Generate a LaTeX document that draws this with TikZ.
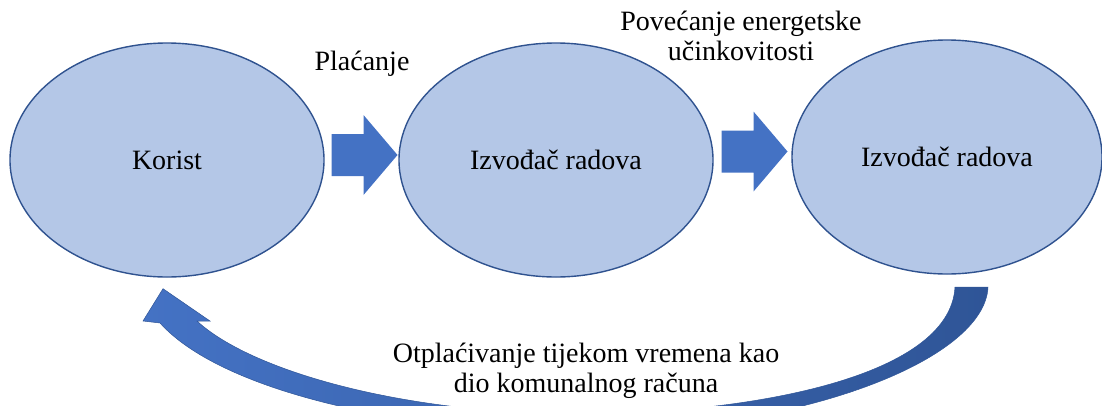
\documentclass[tikz,border=0pt]{standalone}
\usepackage{fontspec}
\setmainfont{Liberation Serif}
\usetikzlibrary{shapes.geometric}
\usetikzlibrary{calc}

\definecolor{ellfill}{RGB}{180,199,231}
\definecolor{elldraw}{RGB}{47,82,143}
\definecolor{arrowlight}{RGB}{68,114,196}
\definecolor{arrowdark}{RGB}{47,85,151}

\tikzset{
  stage/.style={ellipse, draw=elldraw, fill=ellfill, line width=1.4pt,
    minimum width=314pt, minimum height=234pt, inner sep=0pt},
  pics/blockarr/.style={code={
    \fill[arrowlight] (-33,-21) -- (-1,-21) -- (-1,-40) -- (33,0)
      -- (-1,40) -- (-1,21) -- (-33,21) -- cycle;}}
}

\begin{document}
\begin{tikzpicture}[x=1pt, y=-1pt, font=\fontsize{28}{30}\selectfont]
            \useasboundingbox (0,0) rectangle (1102,405);
            \clip (0,0) rectangle (1102,405);
            % the three stages
            \node[stage] (korist) at (167,160) {Korist};
            \node[stage] (izvodac) at (556,160) {Izvođač radova};
            \node[stage, minimum width=310pt] (ucinak) at (947,157) {Izvođač radova};
            % block arrows between the stages
            \coordinate (p1) at ($(korist.east)!0.5!(izvodac.west)+(3,-5)$);
            \coordinate (p2) at ($(izvodac.east)!0.5!(ucinak.west)+(2,-7)$);
            \pic at (p1) {blockarr};
            \pic at (p2) {blockarr};
            \node (placanje) at (362,64) {Plaćanje};
            \node[align=center] (povecanje) at (741,36) {Povećanje energetske\\učinkovitosti};
            % curved return arrow
            \coordinate (tip) at ($(korist.south)+(-4,11)$);
            \shade[left color=arrowlight, right color=arrowdark, draw=arrowdark, line width=0.5pt]
              (tip) -- (210,321) -- (197,321)
              .. controls (250,370) and (400,414) .. (580,414)
              .. controls (740,414) and (950,380) .. (955,287)
              -- (988,287)
              .. controls (985,360) and (800,432) .. (580,432)
              .. controls (400,432) and (220,390) .. (160,323)
              -- (143,321) -- cycle;
            \node[align=center] (otplata) at (586,371) {Otplaćivanje tijekom vremena kao\\dio komunalnog računa};
        \end{tikzpicture}
\end{document}
